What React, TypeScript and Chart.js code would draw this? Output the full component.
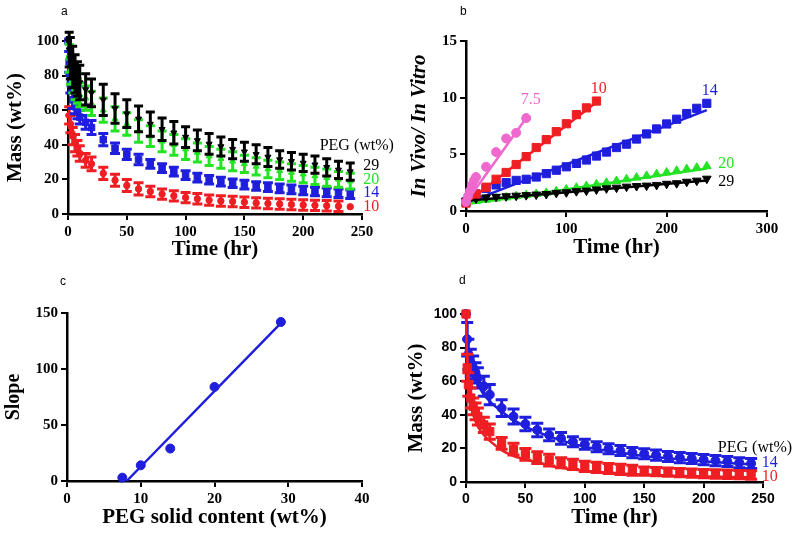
import React, { useEffect, useRef } from 'react';
import { Chart, registerables } from 'chart.js';

Chart.register(...registerables);

const SERIF = "'Liberation Serif', 'Times New Roman', serif";
const SANS = "'Liberation Sans', Arial, sans-serif";

const RED = 'rgb(238, 30, 34)';
const BLUE = 'rgb(30, 30, 220)';
const GREEN = 'rgb(36, 226, 36)';
const BLACK = '#000000';
const PINK = 'rgb(238, 104, 206)';

// ---------- Panel a: in vitro mass loss ----------
const timeA = [0, 1, 2, 4, 6, 8, 10, 15, 20, 30, 40, 50, 60, 70, 80, 90, 100, 110, 120, 130, 140, 150, 160, 170, 180, 190, 200, 210, 220, 230, 240];
const massA29 = [100, 95, 90, 85, 81, 78, 76, 72, 70, 66, 61, 58, 55, 52, 49, 47, 44.5, 42.5, 40.5, 39, 37.5, 36, 34.5, 33, 31.5, 30.5, 29.5, 28.5, 27, 25.5, 24.5];
const errA29 = [0, 10, 12, 12, 11, 10, 10, 9, 8, 9, 8.5, 8, 7.5, 7, 6.5, 6.5, 6, 6, 6, 5.5, 5.5, 5.5, 5.5, 5.5, 5, 5, 5, 5, 5, 5, 5];
const massA20 = [100, 90, 83, 78, 74, 71, 69, 67, 64, 60, 55, 52, 48, 45, 42, 40, 37.5, 35.5, 33.5, 32, 30.5, 29, 27.5, 26, 25, 24, 23, 22, 21, 20, 19];
const errA20 = [0, 8, 8, 8, 8, 7, 7, 7, 7, 7, 7, 6.5, 6.5, 6, 6, 6, 6, 5.5, 5.5, 5.5, 5.5, 5, 5, 5, 5, 5, 5, 5, 5, 4.5, 4.5];
const massA14 = [100, 88, 75, 66, 62, 59, 56, 53, 50, 43, 38, 34.5, 31.5, 29, 26.5, 24.5, 22.5, 21, 19.8, 18.7, 17.8, 17, 16.2, 15.5, 14.8, 14.2, 13.6, 13, 12.5, 12, 11.5];
const errA14 = [0, 6, 5, 5, 4, 4, 4, 4, 4, 3.5, 3, 3, 3, 2.5, 2.5, 2.5, 2.5, 2.5, 2.5, 2.5, 2.5, 2.5, 2.5, 2.5, 2.5, 2.5, 2.5, 2.5, 2.5, 2.5, 2.5];
const massA10 = [100, 57, 52, 45, 41, 38, 35, 31, 29, 23.5, 19.5, 16.5, 14.5, 13, 11.5, 10.5, 9.5, 8.8, 8, 7.5, 7.2, 6.8, 6.4, 6.1, 5.8, 5.5, 5.2, 5, 4.8, 4.5, 4.2];
const errA10 = [0, 5, 5, 5, 5, 4.5, 4.5, 4, 4, 3.5, 3.5, 3.5, 3.5, 3, 3, 3, 3, 3, 3, 3, 3, 3, 3, 3, 3, 3, 3, 3, 3, 3, 0];

// ---------- Panel b: in vivo / in vitro ----------
const timeB75 = [0, 2, 4, 6, 8, 10, 20, 30, 40, 50, 60];
const ratioB75 = [0.8, 1.3, 1.8, 2.3, 2.7, 3.0, 3.9, 5.2, 6.4, 6.9, 8.2];
const timeB10 = [0, 10, 20, 30, 40, 50, 60, 70, 80, 90, 100, 110, 120, 130];
const ratioB10 = [0.7, 1.5, 2.1, 2.8, 3.4, 4.1, 4.8, 5.6, 6.3, 7.0, 7.7, 8.5, 9.1, 9.7];
const timeB = [0, 10, 20, 30, 40, 50, 60, 70, 80, 90, 100, 110, 120, 130, 140, 150, 160, 170, 180, 190, 200, 210, 220, 230, 240];
const ratioB14 = [0.8, 1.5, 2.0, 2.3, 2.5, 2.7, 2.8, 3.0, 3.3, 3.6, 3.9, 4.2, 4.5, 4.85, 5.2, 5.6, 5.9, 6.35, 6.8, 7.24, 7.68, 8.1, 8.6, 9.06, 9.5];
const ratioB20 = [0.7, 0.9, 1.0, 1.1, 1.2, 1.3, 1.4, 1.5, 1.6, 1.75, 1.9, 2.05, 2.2, 2.35, 2.5, 2.65, 2.8, 2.95, 3.1, 3.25, 3.4, 3.55, 3.7, 3.82, 3.95];
const ratioB29 = [0.9, 1.1, 1.2, 1.25, 1.3, 1.35, 1.4, 1.45, 1.5, 1.6, 1.65, 1.75, 1.8, 1.9, 2.0, 2.06, 2.15, 2.2, 2.24, 2.3, 2.4, 2.45, 2.58, 2.68, 2.85];
const fitTimeB75 = [0, 60];
const fitB75 = [0.75, 8.2];
const fitTimeB10 = [0, 130];
const fitB10 = [0.7, 9.6];
const fitTimeB = [0, 240];
const fitB14 = [0.7, 8.9];
const fitB20 = [0.6, 3.75];
const fitB29 = [0.9, 2.7];

// ---------- Panel c: slope vs PEG content ----------
const pegC = [7.5, 10, 14, 20, 29];
const slopeC = [3, 14, 29, 84, 142];
const fitPegC = [8.1, 29];
const fitSlopeC = [0, 141];

// ---------- Panel d: in vivo mass loss ----------
const timeD = [0, 1, 2, 4, 6, 8, 10, 15, 20, 30, 40, 50, 60, 70, 80, 90, 100, 110, 120, 130, 140, 150, 160, 170, 180, 190, 200, 210, 220, 230, 240];
const massD14 = [100, 85, 76, 71, 68, 65, 62, 57, 52, 44, 39, 34.5, 31, 28, 26, 24, 22.5, 21, 19.8, 18.7, 17.5, 16.8, 16, 15.2, 14.5, 14, 13.3, 12.7, 12.2, 11.5, 11];
const errD14 = [0, 10, 9, 8, 7, 6, 6, 6, 6, 5, 4.5, 4, 4, 3.5, 3.5, 3, 3, 3, 3, 3, 3, 3, 3, 3, 3, 3, 3, 3, 3, 3, 3];
const massD10 = [100, 68, 58, 50, 45, 42, 39, 34, 30, 23, 19.5, 16.5, 14.5, 13, 11.5, 10.5, 9.3, 8.7, 8, 7.5, 7, 6.5, 6.2, 5.9, 5.6, 5.3, 5, 4.8, 4.6, 4.4, 4.2];
const errD10 = [0, 8, 7, 6, 5, 5, 5, 4.5, 4.5, 3.5, 3.5, 3.5, 3.5, 3.5, 3, 3, 3, 3, 3, 3, 3, 2.5, 2.5, 2.5, 2.5, 2.5, 2.5, 2.5, 2.5, 2.5, 2.5];
const fitTimeD = [0, 0.5, 1, 2, 3, 5, 7.5, 10, 15, 20, 30, 40, 50, 75, 100, 125, 150, 175, 200, 240];
const fitD14 = [100, 90, 84, 77, 72, 66, 61, 58, 52, 48, 42, 37, 33, 26, 21, 18, 15.5, 13.8, 12.3, 10.5];
const fitD10 = [100, 82, 70, 58, 51, 43, 37, 33, 28, 24.5, 19, 15.5, 13.5, 9.1, 6.7, 5.3, 4.4, 3.7, 3.3, 2.8];

const pts = (xs: number[], ys: number[]) => xs.map((x, i) => ({ x, y: ys[i] }));

const errorBarPlugin = {
  id: 'errorBars',
  beforeDatasetDraw(chart: any, args: any) {
    const ds = chart.data.datasets[args.index];
    if (!ds.errors) return;
    const meta = args.meta;
    const xs = chart.scales[meta.xAxisID];
    const ys = chart.scales[meta.yAxisID];
    const ctx = chart.ctx;
    const cap = ds.capHalf || 4;
    ctx.save();
    ctx.strokeStyle = ds.borderColor;
    ctx.lineWidth = ds.errorWidth || 2;
    ds.data.forEach((p: any, i: number) => {
      const e = ds.errors[i];
      if (!e) return;
      const x = xs.getPixelForValue(p.x);
      const y1 = ys.getPixelForValue(p.y + e);
      const y2 = ys.getPixelForValue(p.y - e);
      ctx.beginPath();
      ctx.moveTo(x, y1);
      ctx.lineTo(x, y2);
      ctx.moveTo(x - cap, y1);
      ctx.lineTo(x + cap, y1);
      ctx.moveTo(x - cap, y2);
      ctx.lineTo(x + cap, y2);
      ctx.stroke();
    });
    ctx.restore();
  },
};

type Lbl = { text: string; x: number; y: number; color: string };
const labelPlugin = (items: Lbl[]) => ({
  id: 'seriesLabels',
  afterDraw(chart: any) {
    const { ctx } = chart;
    const xs = chart.scales.x;
    const ys = chart.scales.y;
    ctx.save();
    ctx.font = `16px ${SERIF}`;
    ctx.textBaseline = 'middle';
    ctx.textAlign = 'left';
    items.forEach((it) => {
      ctx.fillStyle = it.color;
      ctx.fillText(it.text, xs.getPixelForValue(it.x), ys.getPixelForValue(it.y));
    });
    ctx.restore();
  },
});

function axis(o: {
  min: number; max: number; step: number; tickFont: any; title: string; titleFont: any;
  titlePad: number; size: number; horizontal: boolean;
}) {
  return {
    type: 'linear',
    min: o.min,
    max: o.max,
    ticks: { stepSize: o.step, color: '#000', font: o.tickFont, padding: 3, autoSkip: false, maxRotation: 0 },
    grid: { display: true, drawOnChartArea: false, drawTicks: true, tickLength: 6, color: '#000', lineWidth: 2 },
    border: { display: true, color: '#000', width: 2.5 },
    title: {
      display: true,
      text: o.title,
      color: '#000',
      font: o.titleFont,
      padding: o.horizontal ? { top: 0, bottom: o.titlePad } : { top: o.titlePad, bottom: 0 },
    },
    afterFit: (s: any) => {
      if (o.horizontal) s.height = o.size;
      else s.width = o.size;
    },
  };
}

const tickSerif = { family: SERIF, size: 15, weight: 'bold' };
const tickSans = { family: SANS, size: 14, weight: 'bold' };
const titleSerif = { family: SERIF, size: 21, weight: 'bold', lineHeight: 1 };
const titleItalic = { family: SERIF, size: 21, weight: 'bold', style: 'italic', lineHeight: 1 };

const marks = (data: any, color: string, style: string, radius: number, extra: any = {}) => ({
  data,
  showLine: false,
  pointStyle: style,
  pointRadius: radius,
  pointBackgroundColor: color,
  pointBorderColor: color,
  pointBorderWidth: 1,
  borderColor: color,
  backgroundColor: color,
  clip: false,
  ...extra,
});

const line = (data: any, color: string, width: number, extra: any = {}) => ({
  data,
  showLine: true,
  pointRadius: 0,
  borderColor: color,
  backgroundColor: color,
  borderWidth: width,
  fill: false,
  clip: false,
  ...extra,
});

const baseOptions = (padding: any, x: any, y: any) => ({
  responsive: false,
  animation: false,
  layout: { padding },
  plugins: { legend: { display: false }, tooltip: { enabled: false } },
  events: [],
  scales: { x, y },
});

function configA() {
  return {
    type: 'scatter',
    data: {
      datasets: [
        marks(pts(timeA, massA29), BLACK, 'triangle', 3.5, { pointRotation: 180, errors: errA29, capHalf: 4.5, errorWidth: 3, order: 0 }),
        marks(pts(timeA, massA20), GREEN, 'triangle', 3.5, { errors: errA20, capHalf: 4.5, errorWidth: 3, order: 1 }),
        marks(pts(timeA, massA14), BLUE, 'rect', 4.6, { errors: errA14, capHalf: 5, errorWidth: 3, order: 2 }),
        marks(pts(timeA, massA10), RED, 'circle', 3.2, { errors: errA10, capHalf: 5, errorWidth: 3, order: 3 }),
      ],
    },
    options: baseOptions(
      { top: 41, right: 38, left: 0, bottom: 0 },
      axis({ min: 0, max: 250, step: 50, tickFont: tickSerif, title: 'Time (hr)', titleFont: titleSerif, titlePad: 8.5, size: 55, horizontal: true }),
      axis({ min: 0, max: 100, step: 20, tickFont: tickSerif, title: 'Mass (wt%)', titleFont: titleSerif, titlePad: 5.5, size: 68, horizontal: false })
    ),
    plugins: [
      errorBarPlugin,
      labelPlugin([
        { text: 'PEG (wt%)', x: 214, y: 39.5, color: BLACK },
        { text: '29', x: 251, y: 27.9, color: BLACK },
        { text: '20', x: 251, y: 19.7, color: GREEN },
        { text: '14', x: 251, y: 12, color: BLUE },
        { text: '10', x: 251, y: 3.9, color: RED },
      ]),
    ],
  };
}

function configB() {
  return {
    type: 'scatter',
    data: {
      datasets: [
        line(pts(fitTimeB75, fitB75), PINK, 2.5, { order: 0 }),
        marks(pts(timeB75, ratioB75), PINK, 'circle', 4.5, { order: 1 }),
        line(pts(fitTimeB10, fitB10), RED, 2.5, { order: 2 }),
        marks(pts(timeB10, ratioB10), RED, 'rect', 5.8, { order: 3 }),
        line(pts(fitTimeB, fitB29), BLACK, 2.5, { order: 4 }),
        marks(pts(timeB, ratioB29), BLACK, 'triangle', 5, { pointRotation: 180, order: 5 }),
        line(pts(fitTimeB, fitB20), GREEN, 2.5, { order: 6 }),
        marks(pts(timeB, ratioB20), GREEN, 'triangle', 5, { order: 7 }),
        line(pts(fitTimeB, fitB14), BLUE, 2.5, { order: 8 }),
        marks(pts(timeB, ratioB14), BLUE, 'rect', 5.8, { order: 9 }),
      ],
    },
    options: baseOptions(
      { top: 41, right: 33, left: 0, bottom: 0 },
      axis({ min: 0, max: 300, step: 100, tickFont: tickSerif, title: 'Time (hr)', titleFont: titleSerif, titlePad: 10.5, size: 58, horizontal: true }),
      axis({ min: 0, max: 15, step: 5, tickFont: tickSerif, title: 'In Vivo/ In Vitro', titleFont: titleItalic, titlePad: 9.5, size: 66, horizontal: false })
    ),
    plugins: [
      labelPlugin([
        { text: '7.5', x: 54.5, y: 9.8, color: PINK },
        { text: '10', x: 124.3, y: 10.77, color: RED },
        { text: '14', x: 235, y: 10.6, color: BLUE },
        { text: '20', x: 251.5, y: 4.15, color: GREEN },
        { text: '29', x: 251.5, y: 2.6, color: BLACK },
      ]),
    ],
  };
}

function configC() {
  return {
    type: 'scatter',
    data: {
      datasets: [
        marks(pts(pegC, slopeC), BLUE, 'circle', 4.5, { order: 0 }),
        line(pts(fitPegC, fitSlopeC), BLUE, 2.5, { order: 1 }),
      ],
    },
    options: baseOptions(
      { top: 44, right: 38, left: 0, bottom: 0 },
      axis({ min: 0, max: 40, step: 10, tickFont: tickSerif, title: 'PEG solid content (wt%)', titleFont: titleSerif, titlePad: 9.5, size: 57, horizontal: true }),
      axis({ min: 0, max: 150, step: 50, tickFont: tickSerif, title: 'Slope', titleFont: { ...titleSerif, size: 20 }, titlePad: 4, size: 67, horizontal: false })
    ),
    plugins: [],
  };
}

function configD() {
  return {
    type: 'scatter',
    data: {
      datasets: [
        marks(pts(timeD, massD10), RED, 'rect', 5.8, { errors: errD10, capHalf: 6, errorWidth: 3, order: 0 }),
        line(pts(fitTimeD, fitD10), RED, 2.5, { cubicInterpolationMode: 'monotone', order: 1 }),
        marks(pts(timeD, massD14), BLUE, 'circle', 4.5, { errors: errD14, capHalf: 6, errorWidth: 3, order: 2 }),
        line(pts(fitTimeD, fitD14), BLUE, 2.5, { cubicInterpolationMode: 'monotone', order: 3 }),
      ],
    },
    options: baseOptions(
      { top: 45, right: 37, left: 0, bottom: 0 },
      axis({ min: 0, max: 250, step: 50, tickFont: tickSans, title: 'Time (hr)', titleFont: titleSerif, titlePad: 9.5, size: 56, horizontal: true }),
      axis({ min: 0, max: 100, step: 20, tickFont: tickSans, title: 'Mass (wt%)', titleFont: titleSerif, titlePad: 6.5, size: 66, horizontal: false })
    ),
    plugins: [
      errorBarPlugin,
      labelPlugin([
        { text: 'PEG (wt%)', x: 212, y: 20.2, color: BLACK },
        { text: '14', x: 249, y: 11.5, color: BLUE },
        { text: '10', x: 249, y: 3, color: RED },
      ]),
    ],
  };
}

function Panel({ left, top, build }: { left: number; top: number; build: () => any }) {
  const ref = useRef<HTMLCanvasElement>(null);
  useEffect(() => {
    const chart = new Chart(ref.current as HTMLCanvasElement, build());
    return () => chart.destroy();
  }, []);
  return (
    <div style={{ position: 'absolute', left, top, width: 400, height: 269 }}>
      <canvas ref={ref} width={400} height={269} style={{ width: 400, height: 269, display: 'block' }} />
    </div>
  );
}

const letterStyle = (left: number, top: number): React.CSSProperties => ({
  position: 'absolute',
  left,
  top,
  fontFamily: SANS,
  fontSize: 12,
  lineHeight: '12px',
  color: '#000',
});

export default function App() {
  return (
    <div style={{ position: 'absolute', left: 0, top: 0, width: 800, height: 538, background: '#fff', overflow: 'hidden' }}>
      <Panel left={0} top={0} build={configA} />
      <Panel left={400} top={0} build={configB} />
      <Panel left={0} top={269} build={configC} />
      <Panel left={400} top={269} build={configD} />
      <div style={letterStyle(61, 5)}>a</div>
      <div style={letterStyle(460, 5)}>b</div>
      <div style={letterStyle(60, 275)}>c</div>
      <div style={letterStyle(459, 274)}>d</div>
    </div>
  );
}
